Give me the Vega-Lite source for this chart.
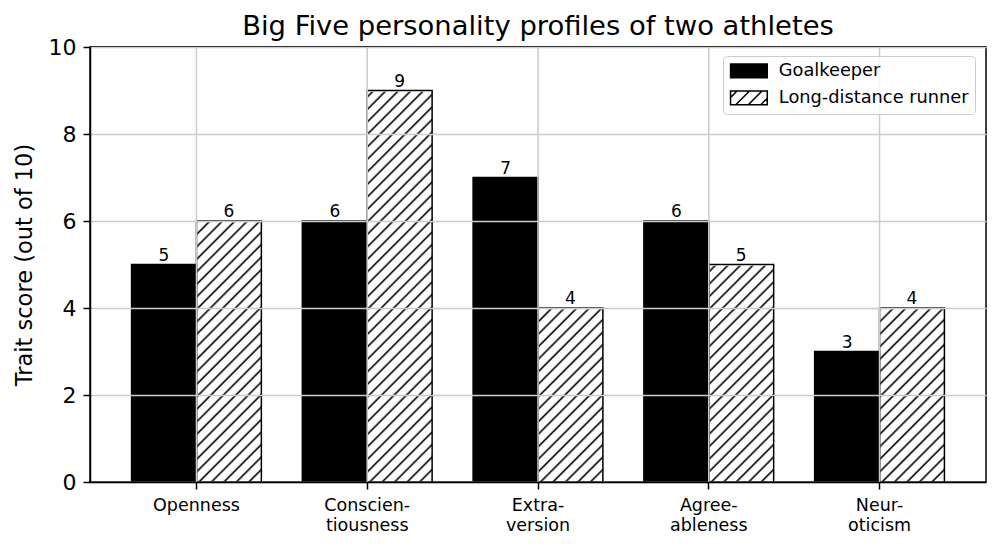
{
  "$schema": "https://vega.github.io/schema/vega-lite/v6.json",
  "width": 896,
  "height": 435,
  "autosize": {"type": "none"},
  "padding": {"left": 90, "top": 47, "right": 14, "bottom": 68},
  "background": "white",
  "config": {
    "font": "DejaVu Sans",
    "view": {"stroke": "black", "strokeWidth": 1.5},
    "axis": {
      "domainColor": "black",
      "domainWidth": 1.5,
      "tickColor": "black",
      "tickWidth": 1.5,
      "tickSize": 7,
      "labelColor": "black",
      "titleColor": "black",
      "titleFontWeight": "normal",
      "gridColor": "#cccccc",
      "gridWidth": 1.5
    }
  },
  "title": {
    "text": "Big Five personality profiles of two athletes",
    "fontSize": 27.4,
    "fontWeight": "normal",
    "color": "black",
    "anchor": "middle",
    "offset": -4
  },
  "data": {
    "values": [
      {"trait": "Openness", "athlete": "Goalkeeper", "score": 5},
      {"trait": "Openness", "athlete": "Long-distance runner", "score": 6},
      {"trait": "Conscien-\ntiousness", "athlete": "Goalkeeper", "score": 6},
      {"trait": "Conscien-\ntiousness", "athlete": "Long-distance runner", "score": 9},
      {"trait": "Extra-\nversion", "athlete": "Goalkeeper", "score": 7},
      {"trait": "Extra-\nversion", "athlete": "Long-distance runner", "score": 4},
      {"trait": "Agree-\nableness", "athlete": "Goalkeeper", "score": 6},
      {"trait": "Agree-\nableness", "athlete": "Long-distance runner", "score": 5},
      {"trait": "Neur-\noticism", "athlete": "Goalkeeper", "score": 3},
      {"trait": "Neur-\noticism", "athlete": "Long-distance runner", "score": 4}
    ]
  },
  "encoding": {
    "x": {
      "field": "trait",
      "type": "nominal",
      "sort": ["Openness", "Conscien-\ntiousness", "Extra-\nversion", "Agree-\nableness", "Neur-\noticism"],
      "scale": {"paddingInner": 0.24, "paddingOuter": 0.2435},
      "axis": {
        "title": null,
        "grid": false,
        "zindex": 1,
        "labelAngle": 0,
        "labelFontSize": 17.5,
        "labelLineHeight": 20,
        "labelPadding": 7,
        "labelBaseline": "top",
        "bandPosition": 0.5,
        "labelExpr": "split(datum.label, '\\n')"
      }
    },
    "y": {
      "field": "score",
      "type": "quantitative",
      "title": "Trait score (out of 10)",
      "scale": {"domain": [0, 10], "nice": false},
      "axis": {
        "grid": true,
        "zindex": 1,
        "values": [0, 2, 4, 6, 8, 10],
        "labelFontSize": 22,
        "titleFontSize": 22.5,
        "labelPadding": 7,
        "titlePadding": 12
      }
    }
  },
  "layer": [
    {
      "transform": [{"filter": "datum.athlete === 'Long-distance runner'"}],
      "mark": {
        "type": "bar",
        "strokeWidth": 0,
        "fill": {
          "gradient": "linear",
          "x1": 0, "y1": 0, "x2": 0.168, "y2": 1.1243,
          "stops": [
            {"offset": 0, "color": "#000"}, {"offset": 0.0045, "color": "#fff"},
            {"offset": 0.0205, "color": "#fff"}, {"offset": 0.025, "color": "#000"}, {"offset": 0.0295, "color": "#fff"},
            {"offset": 0.0455, "color": "#fff"}, {"offset": 0.05, "color": "#000"}, {"offset": 0.0545, "color": "#fff"},
            {"offset": 0.0705, "color": "#fff"}, {"offset": 0.075, "color": "#000"}, {"offset": 0.0795, "color": "#fff"},
            {"offset": 0.0955, "color": "#fff"}, {"offset": 0.1, "color": "#000"}, {"offset": 0.1045, "color": "#fff"},
            {"offset": 0.1205, "color": "#fff"}, {"offset": 0.125, "color": "#000"}, {"offset": 0.1295, "color": "#fff"},
            {"offset": 0.1455, "color": "#fff"}, {"offset": 0.15, "color": "#000"}, {"offset": 0.1545, "color": "#fff"},
            {"offset": 0.1705, "color": "#fff"}, {"offset": 0.175, "color": "#000"}, {"offset": 0.1795, "color": "#fff"},
            {"offset": 0.1955, "color": "#fff"}, {"offset": 0.2, "color": "#000"}, {"offset": 0.2045, "color": "#fff"},
            {"offset": 0.2205, "color": "#fff"}, {"offset": 0.225, "color": "#000"}, {"offset": 0.2295, "color": "#fff"},
            {"offset": 0.2455, "color": "#fff"}, {"offset": 0.25, "color": "#000"}, {"offset": 0.2545, "color": "#fff"},
            {"offset": 0.2705, "color": "#fff"}, {"offset": 0.275, "color": "#000"}, {"offset": 0.2795, "color": "#fff"},
            {"offset": 0.2955, "color": "#fff"}, {"offset": 0.3, "color": "#000"}, {"offset": 0.3045, "color": "#fff"},
            {"offset": 0.3205, "color": "#fff"}, {"offset": 0.325, "color": "#000"}, {"offset": 0.3295, "color": "#fff"},
            {"offset": 0.3455, "color": "#fff"}, {"offset": 0.35, "color": "#000"}, {"offset": 0.3545, "color": "#fff"},
            {"offset": 0.3705, "color": "#fff"}, {"offset": 0.375, "color": "#000"}, {"offset": 0.3795, "color": "#fff"},
            {"offset": 0.3955, "color": "#fff"}, {"offset": 0.4, "color": "#000"}, {"offset": 0.4045, "color": "#fff"},
            {"offset": 0.4205, "color": "#fff"}, {"offset": 0.425, "color": "#000"}, {"offset": 0.4295, "color": "#fff"},
            {"offset": 0.4455, "color": "#fff"}, {"offset": 0.45, "color": "#000"}, {"offset": 0.4545, "color": "#fff"},
            {"offset": 0.4705, "color": "#fff"}, {"offset": 0.475, "color": "#000"}, {"offset": 0.4795, "color": "#fff"},
            {"offset": 0.4955, "color": "#fff"}, {"offset": 0.5, "color": "#000"}, {"offset": 0.5045, "color": "#fff"},
            {"offset": 0.5205, "color": "#fff"}, {"offset": 0.525, "color": "#000"}, {"offset": 0.5295, "color": "#fff"},
            {"offset": 0.5455, "color": "#fff"}, {"offset": 0.55, "color": "#000"}, {"offset": 0.5545, "color": "#fff"},
            {"offset": 0.5705, "color": "#fff"}, {"offset": 0.575, "color": "#000"}, {"offset": 0.5795, "color": "#fff"},
            {"offset": 0.5955, "color": "#fff"}, {"offset": 0.6, "color": "#000"}, {"offset": 0.6045, "color": "#fff"},
            {"offset": 0.6205, "color": "#fff"}, {"offset": 0.625, "color": "#000"}, {"offset": 0.6295, "color": "#fff"},
            {"offset": 0.6455, "color": "#fff"}, {"offset": 0.65, "color": "#000"}, {"offset": 0.6545, "color": "#fff"},
            {"offset": 0.6705, "color": "#fff"}, {"offset": 0.675, "color": "#000"}, {"offset": 0.6795, "color": "#fff"},
            {"offset": 0.6955, "color": "#fff"}, {"offset": 0.7, "color": "#000"}, {"offset": 0.7045, "color": "#fff"},
            {"offset": 0.7205, "color": "#fff"}, {"offset": 0.725, "color": "#000"}, {"offset": 0.7295, "color": "#fff"},
            {"offset": 0.7455, "color": "#fff"}, {"offset": 0.75, "color": "#000"}, {"offset": 0.7545, "color": "#fff"},
            {"offset": 0.7705, "color": "#fff"}, {"offset": 0.775, "color": "#000"}, {"offset": 0.7795, "color": "#fff"},
            {"offset": 0.7955, "color": "#fff"}, {"offset": 0.8, "color": "#000"}, {"offset": 0.8045, "color": "#fff"},
            {"offset": 0.8205, "color": "#fff"}, {"offset": 0.825, "color": "#000"}, {"offset": 0.8295, "color": "#fff"},
            {"offset": 0.8455, "color": "#fff"}, {"offset": 0.85, "color": "#000"}, {"offset": 0.8545, "color": "#fff"},
            {"offset": 0.8705, "color": "#fff"}, {"offset": 0.875, "color": "#000"}, {"offset": 0.8795, "color": "#fff"},
            {"offset": 0.8955, "color": "#fff"}, {"offset": 0.9, "color": "#000"}, {"offset": 0.9045, "color": "#fff"},
            {"offset": 0.9205, "color": "#fff"}, {"offset": 0.925, "color": "#000"}, {"offset": 0.9295, "color": "#fff"},
            {"offset": 0.9455, "color": "#fff"}, {"offset": 0.95, "color": "#000"}, {"offset": 0.9545, "color": "#fff"},
            {"offset": 0.9705, "color": "#fff"}, {"offset": 0.975, "color": "#000"}, {"offset": 0.9795, "color": "#fff"},
            {"offset": 0.9955, "color": "#fff"}, {"offset": 1, "color": "#000"}
          ]
        }
      },
      "encoding": {
        "xOffset": {"field": "athlete", "type": "nominal", "sort": ["Goalkeeper", "Long-distance runner"], "scale": {"paddingInner": 0, "paddingOuter": 0}},
        "y": {"datum": 10, "type": "quantitative", "title": "Trait score (out of 10)"},
        "y2": {"datum": 0}
      }
    },
    {
      "transform": [{"filter": "datum.athlete === 'Long-distance runner'"}],
      "mark": {"type": "bar", "fill": "white", "stroke": "white", "strokeWidth": 2.5},
      "encoding": {
        "xOffset": {"field": "athlete", "type": "nominal", "sort": ["Goalkeeper", "Long-distance runner"]},
        "y2": {"datum": 10}
      }
    },
    {
      "mark": {"type": "bar", "stroke": "black", "strokeWidth": 1.5},
      "encoding": {
        "xOffset": {"field": "athlete", "type": "nominal", "sort": ["Goalkeeper", "Long-distance runner"]},
        "fill": {
          "condition": {"test": "datum.athlete === 'Goalkeeper'", "value": "#000000"},
          "value": "transparent"
        }
      }
    },
    {
      "transform": [{"filter": "datum.athlete === 'Goalkeeper'"}],
      "mark": {"type": "rule", "color": "#cccccc", "strokeWidth": 1.5},
      "encoding": {
        "x": {"field": "trait", "type": "nominal", "bandPosition": 0.5, "sort": ["Openness", "Conscien-\ntiousness", "Extra-\nversion", "Agree-\nableness", "Neur-\noticism"]},
        "y": null
      }
    },
    {
      "mark": {"type": "rule", "color": "black", "strokeWidth": 1.5},
      "encoding": {
        "x": null,
        "y": {"datum": 10, "type": "quantitative", "title": "Trait score (out of 10)"}
      }
    },
    {
      "mark": {"type": "point", "filled": true, "stroke": "black", "strokeWidth": 1.5, "opacity": 0},
      "encoding": {
        "fill": {
          "field": "athlete",
          "type": "nominal",
          "scale": {
            "domain": ["Goalkeeper", "Long-distance runner"],
            "range": ["#000000", "transparent"]
          },
          "legend": {
            "title": null,
            "orient": "none",
            "legendX": 633,
            "legendY": 9,
            "labelFontSize": 17.8,
            "labelColor": "black",
            "labelLimit": 400,
            "labelOffset": 21,
            "symbolSize": 196,
            "symbolOffset": 11,
            "symbolOpacity": 1,
            "symbolStrokeWidth": 1.5,
            "rowPadding": 7,
            "padding": 6,
            "strokeColor": "#cccccc",
            "cornerRadius": 4,
            "fillColor": "rgba(255,255,255,0.8)"
          }
        },
        "stroke": {
          "field": "athlete",
          "type": "nominal",
          "scale": {
            "domain": ["Goalkeeper", "Long-distance runner"],
            "range": ["#000000", "#000000"]
          },
          "legend": {
            "title": null,
            "orient": "none",
            "legendX": 633,
            "legendY": 9,
            "labelFontSize": 17.8,
            "labelColor": "black",
            "labelLimit": 400,
            "labelOffset": 21,
            "symbolSize": 196,
            "symbolOffset": 11,
            "symbolOpacity": 1,
            "symbolStrokeWidth": 1.5,
            "rowPadding": 7,
            "padding": 6,
            "strokeColor": "#cccccc",
            "cornerRadius": 4,
            "fillColor": "rgba(255,255,255,0.8)"
          }
        },
        "shape": {
          "field": "athlete",
          "type": "nominal",
          "scale": {
            "domain": ["Goalkeeper", "Long-distance runner"],
            "range": [
              "M-2.62,-0.98H2.62V0.98H-2.62Z",
              "M-2.62,-0.98H2.62V0.98H-2.62Z M-2.62,-0.06L-1.7,-0.98 M-1.873,0.98L0.087,-0.98 M-0.087,0.98L1.873,-0.98 M1.7,0.98L2.62,0.06"
            ]
          },
          "legend": {
            "title": null,
            "orient": "none",
            "legendX": 633,
            "legendY": 9,
            "labelFontSize": 17.8,
            "labelColor": "black",
            "labelLimit": 400,
            "labelOffset": 21,
            "symbolSize": 196,
            "symbolOffset": 11,
            "symbolOpacity": 1,
            "symbolStrokeWidth": 1.5,
            "rowPadding": 7,
            "padding": 6,
            "strokeColor": "#cccccc",
            "cornerRadius": 4,
            "fillColor": "rgba(255,255,255,0.8)"
          }
        }
      }
    },
    {
      "mark": {"type": "text", "baseline": "alphabetic", "dy": -4, "fontSize": 17, "color": "black"},
      "encoding": {
        "xOffset": {"field": "athlete", "type": "nominal", "sort": ["Goalkeeper", "Long-distance runner"]},
        "text": {"field": "score", "type": "quantitative"}
      }
    }
  ]
}
